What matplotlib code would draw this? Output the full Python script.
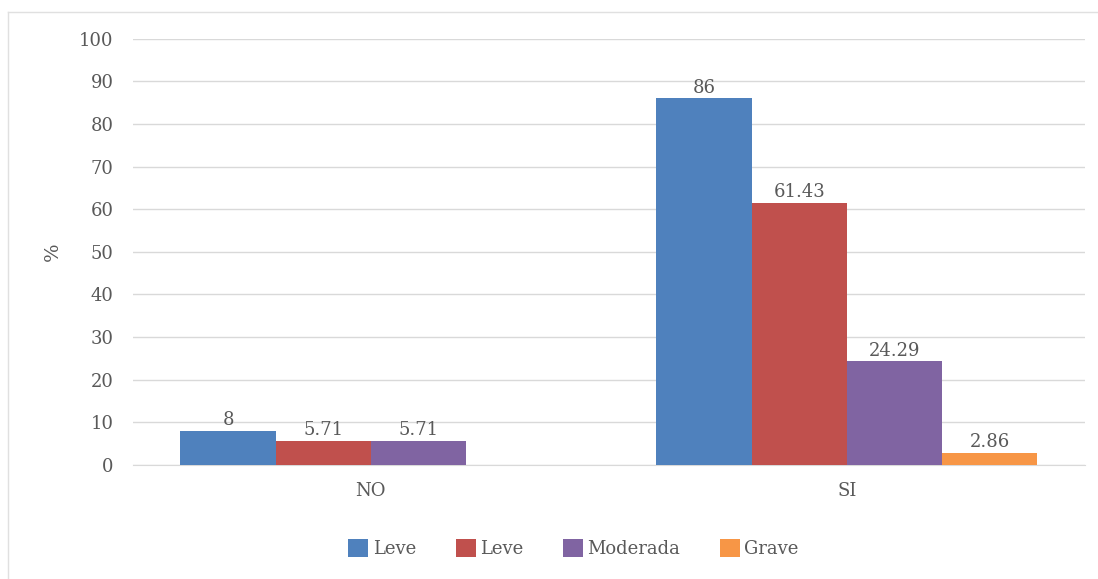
import matplotlib.pyplot as plt
from matplotlib.lines import Line2D
import numpy as np

plt.rcParams['font.family'] = ['DejaVu Serif']

# data
categories = ['NO', 'SI']
series_names = ['Leve', 'Leve', 'Moderada', 'Grave']
values = [
    [8, 86],        # Leve (blue)
    [5.71, 61.43],  # Leve (red)
    [5.71, 24.29],  # Moderada
    [0, 2.86],      # Grave
]
labels = [
    ['8', '86'],
    ['5.71', '61.43'],
    ['5.71', '24.29'],
    ['', '2.86'],
]
colors = ['#4F81BD', '#C0504D', '#8064A2', '#F79646']
text_col = '#595959'

fig = plt.figure(figsize=(10.98, 5.79), dpi=100)
ax = fig.add_axes([0.121, 0.197, 0.867, 0.736])

x = np.arange(len(categories))
w = 0.2
for i, (name, vals) in enumerate(zip(series_names, values)):
    pos = x + (i - 1.5) * w
    bars = ax.bar(pos, vals, width=w, color=colors[i], label=name, zorder=3)
    for b, lab in zip(bars, labels[i]):
        if lab:
            ax.text(b.get_x() + b.get_width() / 2, b.get_height() + 0.4, lab,
                    ha='center', va='bottom', fontsize=13, color=text_col)

ax.set_xlim(-0.5, 1.5)
ax.set_ylim(0, 100)
ax.set_yticks(range(0, 101, 10))
ax.set_xticks(x)
ax.set_xticklabels(categories)
ax.tick_params(axis='both', length=0, labelsize=13, labelcolor=text_col)
ax.tick_params(axis='y', pad=14)
ax.tick_params(axis='x', pad=12)
ax.yaxis.grid(True, color='#D9D9D9', linewidth=1, zorder=0)
for s in ['top', 'right', 'left']:
    ax.spines[s].set_visible(False)
ax.spines['bottom'].set_color('#D9D9D9')
ax.set_ylabel('%', fontsize=14, color=text_col, labelpad=12)

ax.legend(loc='center', bbox_to_anchor=(0.463, -0.197), ncol=4, frameon=False,
          fontsize=13, labelcolor=text_col, handlelength=1.1, handleheight=1.1,
          handletextpad=0.25, columnspacing=2.2)

# outer chart border
fig.add_artist(Line2D([8 / 1098, 1], [1 - 12 / 579, 1 - 12 / 579],
                      transform=fig.transFigure, color='#E0E0E0', lw=1))
fig.add_artist(Line2D([8 / 1098, 8 / 1098], [0, 1 - 12 / 579],
                      transform=fig.transFigure, color='#E0E0E0', lw=1))

plt.savefig('out.png', dpi=100)
